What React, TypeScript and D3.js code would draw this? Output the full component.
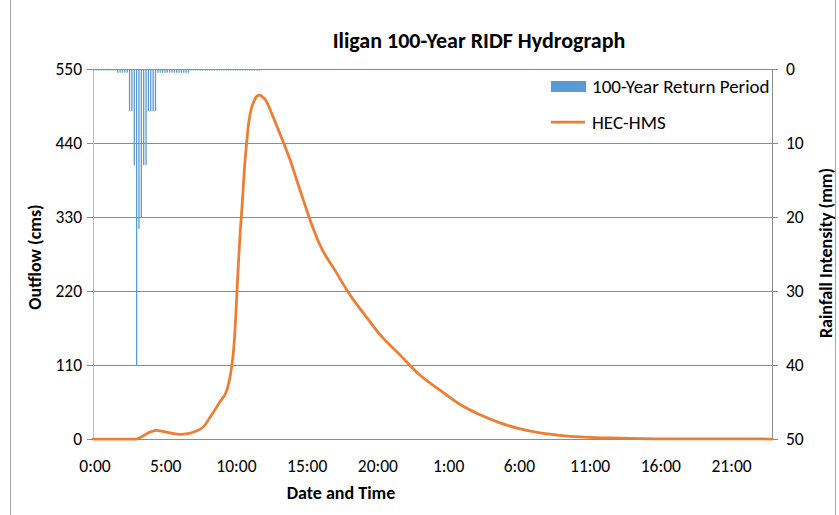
import React from 'react';
import * as d3 from 'd3';

// HEC-HMS outflow (hours from start, cms)
const outflowHours = [0, 1, 2, 3.05, 3.5, 4.0, 4.45, 5.0, 5.6, 6.15, 6.7, 7.2, 7.8, 8.3, 8.9, 9.5, 9.75, 9.95, 10.1, 10.25, 10.4, 10.55, 10.7, 10.87, 11.0, 11.2, 11.4, 11.6, 11.8, 12.0, 12.2, 12.63, 13.0, 13.34, 13.93, 14.4, 14.87, 15.34, 16.05, 17.1, 18.17, 19.23, 20.29, 21.7, 23.1, 24.5, 25.9, 27.36, 28.77, 30.2, 31.6, 33, 34.4, 36.5, 38.7, 40, 48];
const outflowCms = [0, 0, 0, 0, 4, 10, 13, 11, 8.5, 7, 8, 11, 18, 33, 53, 75, 100, 135, 185, 250, 305, 350, 400, 442, 469, 492, 503, 510, 511, 508, 504, 484, 465, 447, 415, 385, 355, 326, 288, 251, 214, 184, 155, 125, 95, 73, 52, 36, 24, 15, 9, 5.5, 3, 1.5, 0.5, 0.2, 0];

// 100-Year return period rainfall, 10-minute intervals (mm)
const rainfallMm = [
  0.2, 0.2, 0.2, 0.2, 0.2, 0.2, 0.2, 0.2, 0.2, 0.2,
  0.5, 0.5, 0.5, 0.5, 0.5, 5.7, 5.7, 13, 40, 21.6,
  20, 13, 13, 5.7, 5.7, 5.7, 5.7, 0.5, 0.5, 0.5,
  0.5, 0.5, 0.5, 0.5, 0.5, 0.5, 0.5, 0.5, 0.5, 0.5,
  0.5, 0.2, 0.2, 0.2, 0.2, 0.2, 0.2, 0.2, 0.2, 0.2,
  0.2, 0.2, 0.2, 0.2, 0.2, 0.2, 0.2, 0.2, 0.2, 0.2,
  0.2, 0.2, 0.2, 0.2, 0.2, 0.2, 0.2, 0.2, 0.2, 0.2,
  0.2, 0.2,
];
const rainStepHours = 1 / 6;

const leftTicks = [0, 110, 220, 330, 440, 550];
const rightTicks = [0, 10, 20, 30, 40, 50];
const xTickHours = [0, 5, 10, 15, 20, 25, 30, 35, 40, 45];
const xTickLabels = ['0:00', '5:00', '10:00', '15:00', '20:00', '1:00', '6:00', '11:00', '16:00', '21:00'];

const FONT = "Carlito, Lato, 'Open Sans', sans-serif";
const BLUE = '#5B9BD5';
const ORANGE = '#ED7D31';

export default function App() {
  const W = 839, H = 515;
  const L = 93, R = 772, T = 69, B = 439;
  const x = d3.scaleLinear().domain([0, 48]).range([L, R]);
  const yL = d3.scaleLinear().domain([0, 550]).range([B, T]);
  const yR = d3.scaleLinear().domain([0, 50]).range([T, B]);

  const pts: [number, number][] = outflowHours.map((h, i) => [h, outflowCms[i]]);
  const lineGen = d3.line<[number, number]>().x(d => x(d[0])).y(d => yL(d[1])).curve(d3.curveMonotoneX);
  const bw = (x(rainStepHours) - x(0)) * 0.55;

  return (
    <svg width={W} height={H} style={{ position: 'absolute', left: 0, top: 0, background: '#fff' }} fontFamily={FONT}>
      <rect x={0} y={0} width={W} height={H} fill="#fff" />
      <line x1={10.5} x2={10.5} y1={0} y2={H} stroke="#a6a6a6" />
      <line x1={835.5} x2={835.5} y1={0} y2={H} stroke="#a6a6a6" />

      <text x={479} y={48} textAnchor="middle" fontSize={22} fontWeight="bold" fill="#000">Iligan 100-Year RIDF Hydrograph</text>

      {/* gridlines */}
      {leftTicks.map(t => (
        <line key={'g' + t} x1={L} x2={R} y1={Math.round(yL(t)) + 0.5} y2={Math.round(yL(t)) + 0.5} stroke="#8c8c8c" />
      ))}
      {/* left axis */}
      <line x1={L + 0.5} x2={L + 0.5} y1={T} y2={B} stroke="#bfbfbf" />
      {leftTicks.map(t => (
        <g key={'lt' + t}>
          <line x1={L - 6} x2={L} y1={Math.round(yL(t)) + 0.5} y2={Math.round(yL(t)) + 0.5} stroke="#8c8c8c" />
          <text x={82} y={yL(t) + 6} textAnchor="end" fontSize={17.5} fill="#000">{t}</text>
        </g>
      ))}
      {/* right axis */}
      <line x1={R + 0.5} x2={R + 0.5} y1={T} y2={B} stroke="#8c8c8c" />
      {rightTicks.map(t => (
        <g key={'rt' + t}>
          <line x1={R} x2={R + 6} y1={Math.round(yR(t)) + 0.5} y2={Math.round(yR(t)) + 0.5} stroke="#8c8c8c" />
          <text x={786} y={yR(t) + 6} textAnchor="start" fontSize={17.5} fill="#000">{t}</text>
        </g>
      ))}
      {/* x labels */}
      {xTickHours.map((h, i) => (
        <text key={'xt' + h} x={x(h) + 2} y={472} textAnchor="middle" fontSize={17.5} fill="#000">{xTickLabels[i]}</text>
      ))}

      {/* rainfall bars */}
      {rainfallMm.map((v, i) => (
        <rect key={'b' + i} x={x((i + 0.5) * rainStepHours) - bw / 2} y={yR(0)} width={bw} height={yR(v) - yR(0)} fill={BLUE} />
      ))}

      {/* outflow line */}
      <path d={lineGen(pts) || ''} fill="none" stroke={ORANGE} strokeWidth={2.75} strokeLinejoin="round" strokeLinecap="round" />

      {/* axis titles */}
      <text x={341} y={499} textAnchor="middle" fontSize={18} fontWeight="bold" fill="#000">Date and Time</text>
      <text transform={`translate(41,257) rotate(-90)`} textAnchor="middle" fontSize={18} fontWeight="bold" fill="#000">Outflow (cms)</text>
      <text transform={`translate(832,253) rotate(-90)`} textAnchor="middle" fontSize={18} fontWeight="bold" fill="#000">Rainfall Intensity (mm)</text>

      {/* legend */}
      <rect x={551} y={81} width={35} height={11} fill={BLUE} />
      <text x={592} y={93} fontSize={19} fill="#000">100-Year Return Period</text>
      <line x1={551} x2={585} y1={122} y2={122} stroke={ORANGE} strokeWidth={2.75} />
      <text x={592} y={129} fontSize={19} fill="#000">HEC-HMS</text>
    </svg>
  );
}
